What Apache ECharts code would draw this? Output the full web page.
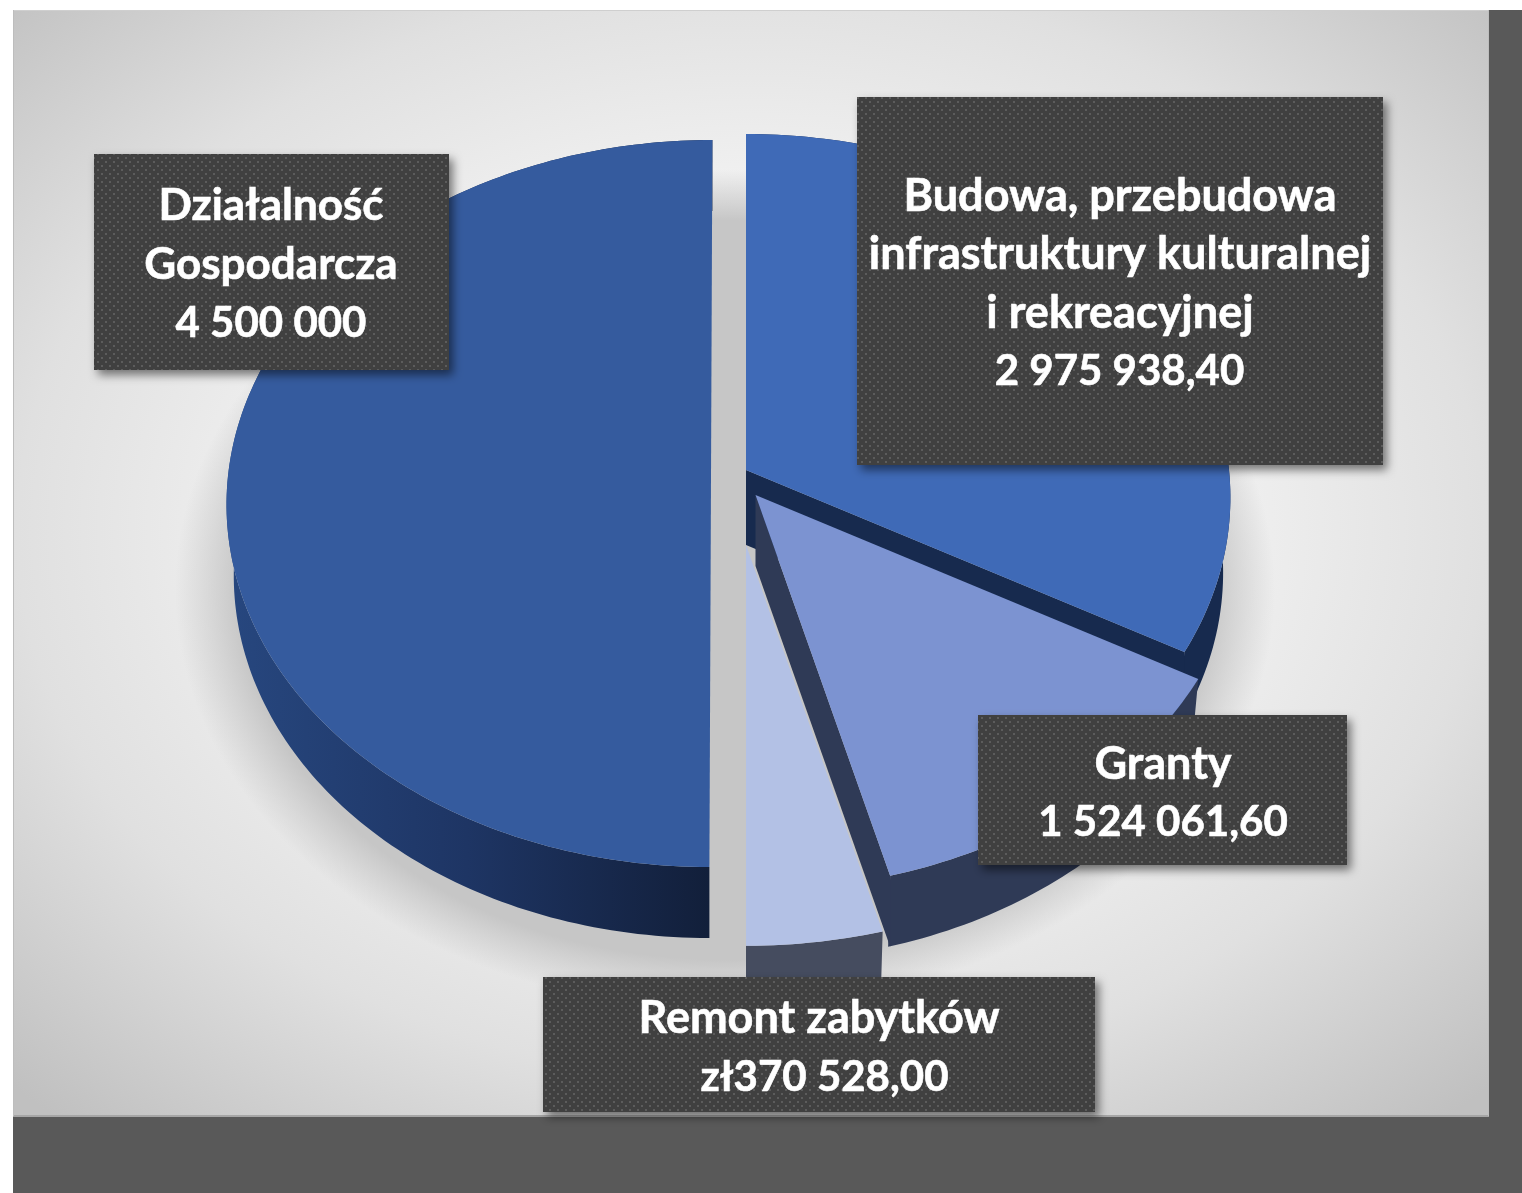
<!DOCTYPE html>
<html>
<head>
<meta charset="utf-8">
<title>Wykres</title>
<script src="https://cdn.jsdelivr.net/npm/echarts@6/dist/echarts.min.js"></script>
<style>
    html, body { margin: 0; padding: 0; background: #fff; }
    #chart { width: 1522px; height: 1193px; }
</style>
</head>
<body>
<div id="chart"></div>
<script>
//categories, clockwise from 12 o'clock
const categories = ["Budowa, przebudowa\ninfrastruktury kulturalnej\ni rekreacyjnej", "Granty", "Remont zabytków", "Działalność\nGospodarcza"];

//values as printed on the labels
const valueLabels = ["2 975 938,40", "1 524 061,60", "zł370 528,00", "4 500 000"];

//values the slices are drawn with (Granty slice is narrower than its label says)
const sliceValues = [2975938.4, 1153533.6, 370528, 4500000];

//back to front
const drawOrder = [0, 2, 1, 3];

//pie look
const topColors = ["#3f6ab7", "#7c93d1", "#b3c1e5", "#355b9e"];
const wallColors = ["#172a4e", "#2f3a56", "#454c5f", null];
const apexes = [[746, 470], [755.5, 495], [746, 545], [711, 476]];
const depths = [75, 71, 71, 71];
const radialScales = [1, 1.01, 1.025, 1];
const skews = [0, 0, 0, -0.0041];

const rx = 483, ry = 361.4, persp = 0.0757, bottomShrink = 0.985;

//label boxes [x, y, width, height], text centres [x, y]
const boxes = [[857, 97, 526, 368], [978, 715, 369, 150], [543, 977, 552, 135], [94, 154, 355, 216]];
const categoryCentres = [[1120, 254.5], [1163, 764], [819, 1018.5], [271, 235.5]];
const valueCentres = [[1119.5, 371], [1163, 822], [824.5, 1077], [271, 323]];
const categoryFontSizes = [45, 45, 45, 44];
const valueFontSize = 42;

const total = sliceValues.reduce((a, b) => a + b, 0);
const startAngles = sliceValues.map((d, i) => sliceValues.slice(0, i).reduce((a, b) => a + b, 0) / total * 360);

//point on a slice rim, pie seen with a little perspective
function rimPoint(i, deg, bottom) {
    const t = deg * Math.PI / 180;
    const u = Math.sin(t);
    const v = -Math.cos(t);
    const w = 1 / (1 - persp * v);
    const s = radialScales[i];
    const dy = ry * v * w * s;
    const x = apexes[i][0] + rx * u * w * s * (bottom ? bottomShrink : 1) + skews[i] * dy;
    const y = apexes[i][1] + dy + (bottom ? depths[i] : 0);
    return [x, y];
}

function rimPoints(i, from, to, bottom) {
    const pts = [];
    const n = Math.max(2, Math.round(to - from));
    for (let k = 0; k <= n; k++) {
        pts.push(rimPoint(i, from + (to - from) * k / n, bottom));
    }
    return pts;
}

const leftWallFill = new echarts.graphic.LinearGradient(226, 0, 709, 0, [
    { offset: 0, color: "#27477f" },
    { offset: 0.5, color: "#1e3564" },
    { offset: 1, color: "#121f3a" }
], true);

function renderSlice(params, api) {
    const i = api.value(0);
    const from = startAngles[i];
    const to = from + api.value(1) / total * 360;
    const apex = apexes[i];
    const wallFill = wallColors[i] || leftWallFill;
    const children = [];

    //outer wall
    children.push({
        type: "polygon",
        shape: { points: rimPoints(i, from, to, false).concat(rimPoints(i, from, to, true).reverse()) },
        style: { fill: wallFill }
    });

    //cut wall
    if (to < 179.5) {
        const end = rimPoint(i, to, false);
        children.push({
            type: "polygon",
            shape: { points: [apex, end, [end[0], end[1] + depths[i]], [apex[0], apex[1] + depths[i]]] },
            style: { fill: wallFill }
        });
    }

    //top face
    children.push({
        type: "polygon",
        shape: { points: [apex].concat(rimPoints(i, from, to, false)) },
        style: { fill: topColors[i] }
    });

    return { type: "group", children: children };
}

//dotted fill of the label boxes
function dotPattern() {
    const c = document.createElement("canvas");
    c.width = 8;
    c.height = 8;
    const ctx = c.getContext("2d");
    ctx.fillStyle = "#404040";
    ctx.fillRect(0, 0, 8, 8);
    ctx.fillStyle = "#5c5c5c";
    ctx.fillRect(1, 1, 2, 2);
    ctx.fillRect(5, 5, 2, 2);
    return { image: c, repeat: "repeat" };
}
const boxFill = dotPattern();

function labelText(text, centre, size) {
    return {
        type: "text",
        style: {
            text: text,
            x: centre[0],
            y: centre[1],
            align: "center",
            verticalAlign: "middle",
            font: `bold ${size}px Lato, sans-serif`,
            lineHeight: 58.5,
            fill: "#ffffff",
            stroke: "#ffffff",
            lineWidth: 0.6
        }
    };
}

function renderLabel(params, api) {
    const i = api.value(0);
    const b = boxes[i];
    return {
        type: "group",
        children: [
            {
                type: "rect",
                shape: { x: b[0], y: b[1], width: b[2], height: b[3] },
                style: {
                    fill: boxFill,
                    shadowColor: "rgba(0,0,0,0.5)",
                    shadowBlur: 10,
                    shadowOffsetX: 4,
                    shadowOffsetY: 5
                }
            },
            labelText(categories[i], categoryCentres[i], categoryFontSizes[i]),
            labelText(valueLabels[i], valueCentres[i], valueFontSize)
        ]
    };
}

const chart = echarts.init(document.getElementById("chart"), null, { renderer: "canvas" });

chart.setOption({
    animation: false,
    backgroundColor: "#ffffff",
    graphic: [
        //dark bands behind the panel
        { type: "rect", z: -10, shape: { x: 13, y: 10, width: 1509, height: 1183 }, style: { fill: "#595959" } },
        //panel, gradient squeezed to an ellipse
        {
            type: "rect", z: -9,
            shape: { x: 0, y: 0, width: 1476, height: 1476 },
            x: 13, y: 10, scaleY: 1106 / 1476,
            style: {
                fill: new echarts.graphic.RadialGradient(0.5, 0.47, 0.71, [
                    { offset: 0, color: "#fbfbfb" },
                    { offset: 0.45, color: "#f0f0f0" },
                    { offset: 0.7, color: "#e0e0e0" },
                    { offset: 1, color: "#c0c0c0" }
                ])
            }
        },
        { type: "rect", z: -8, shape: { x: 13, y: 1115, width: 1476, height: 2 }, style: { fill: "#a6a6a6" } },
        { type: "rect", z: -8, shape: { x: 13, y: 10, width: 1476, height: 1 }, style: { fill: "#cfcfcf" } },
        { type: "rect", z: -8, shape: { x: 13, y: 10, width: 1, height: 1106 }, style: { fill: "#bdbdbd" } },
        { type: "rect", z: -8, shape: { x: 1488, y: 10, width: 1, height: 1106 }, style: { fill: "#bdbdbd" } },
        //soft shadow under the pie
        {
            type: "circle", z: -7,
            shape: { cx: 0, cy: 0, r: 1000 },
            x: 725, y: 590, scaleX: 0.55, scaleY: 0.42,
            style: {
                fill: new echarts.graphic.RadialGradient(0.5, 0.5, 0.5, [
                    { offset: 0, color: "rgba(198,198,198,1)" },
                    { offset: 0.88, color: "rgba(198,198,198,1)" },
                    { offset: 0.94, color: "rgba(198,198,198,0.5)" },
                    { offset: 1, color: "rgba(198,198,198,0)" }
                ])
            }
        }
    ],
    series: [
        {
            type: "custom",
            coordinateSystem: "none",
            renderItem: renderSlice,
            z: 2,
            silent: true,
            data: drawOrder.map(i => [i, sliceValues[i]])
        },
        {
            type: "custom",
            coordinateSystem: "none",
            renderItem: renderLabel,
            z: 3,
            silent: true,
            data: categories.map((d, i) => [i])
        }
    ]
});
</script>
</body>
</html>
